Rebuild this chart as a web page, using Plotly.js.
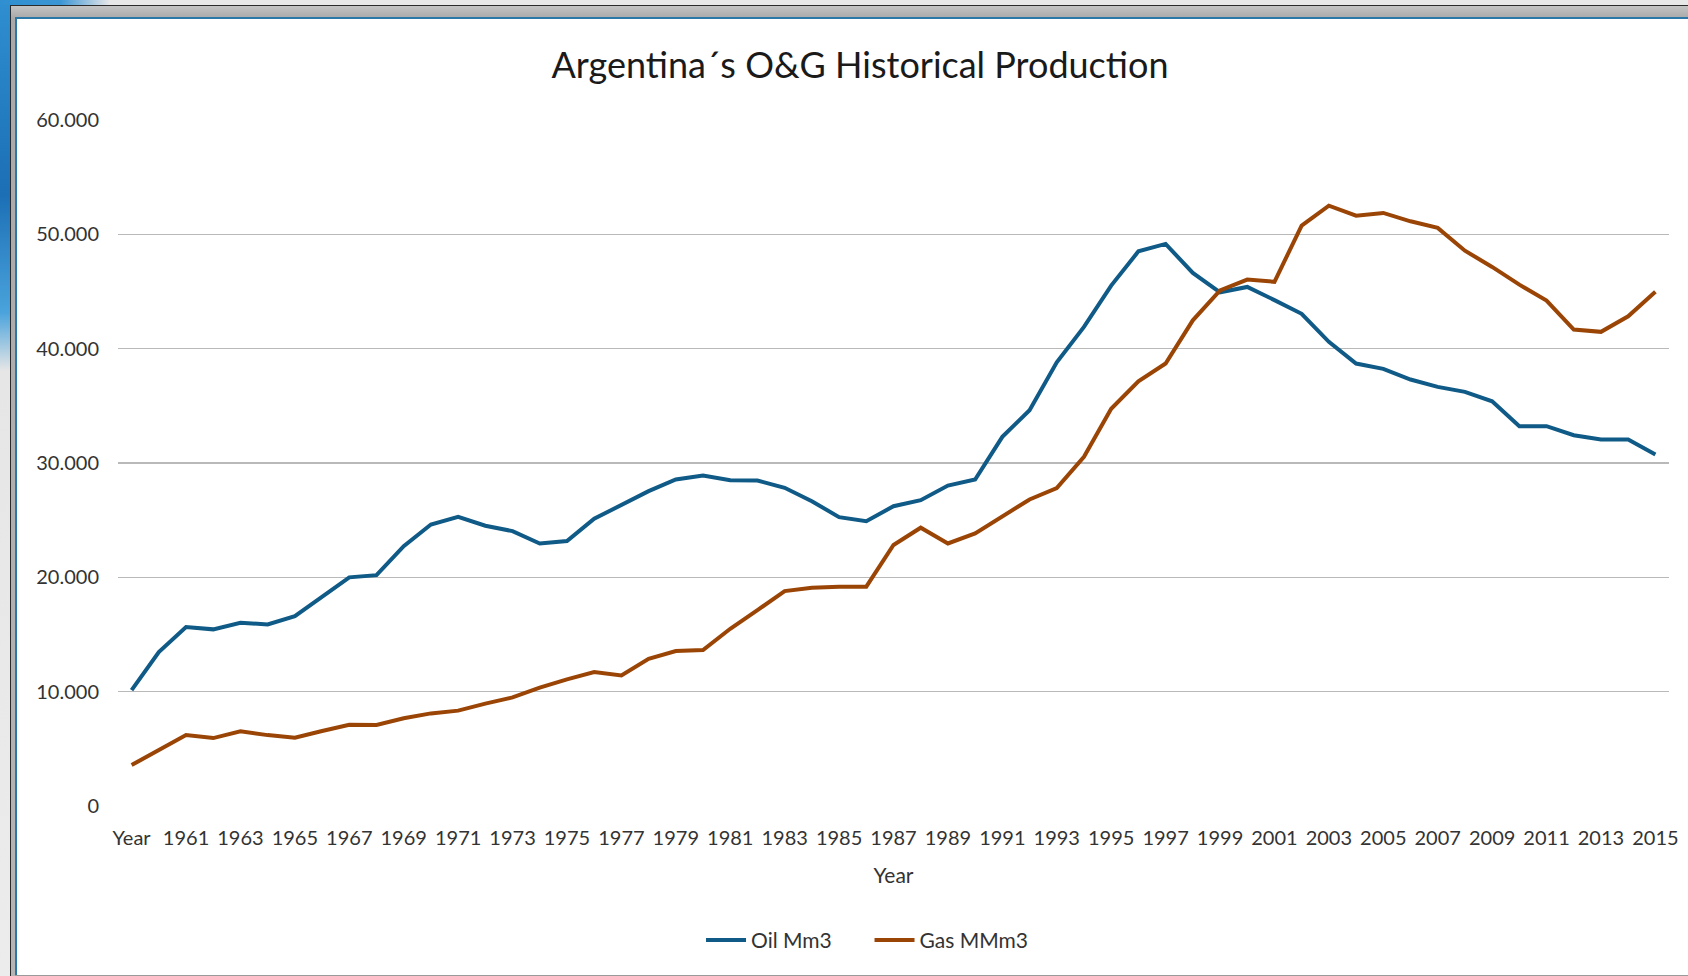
<!DOCTYPE html>
<html>
<head>
<meta charset="utf-8">
<script src="https://cdn.plot.ly/plotly-3.0.1.min.js"></script>
<style>
  html, body { margin:0; padding:0; width:1688px; height:976px; overflow:hidden; background:#ececec; }
  #desk { position:absolute; left:0; top:0; width:10px; height:976px;
          background: linear-gradient(180deg, #2f8fd0 0%, #1c6fb5 20%, #4aa3dc 32%, #e6e6e6 38%, #ececec 100%); }
  #desktop-top { position:absolute; left:0; top:0; width:1688px; height:5px;
          background: linear-gradient(90deg, #2f8fd0 0px, #3b95d4 60px, #e8e8e8 110px, #e8e8e8 100%); }
  #frame { position:absolute; left:10px; top:5px; width:1678px; height:971px; box-sizing:border-box;
           border-left:1px solid #2b2b2b; border-top:1px solid #2b2b2b;
           background: linear-gradient(180deg, #c4c4c4 0px, #a9a9a9 12px, #b5b5b5 100%); }
  #inner { position:absolute; left:15px; top:17px; width:1673px; height:958px; box-sizing:border-box;
           border-left:2px solid #2a78a8; border-top:2px solid #2a78a8; background:#ffffff; }
  #chart { position:absolute; left:17px; top:19px; width:1671px; height:956px; }
  #bottomline { position:absolute; left:15px; top:975px; width:1673px; height:1px; background:#9a9a9a; }
</style>
</head>
<body>
<div id="desk"></div>
<div id="desktop-top"></div>
<div id="frame"></div>
<div id="inner"></div>
<div id="chart"></div>
<div id="bottomline"></div>
<script>
const categories = ["Year","1960","1961","1962","1963","1964","1965","1966","1967","1968","1969",
  "1970","1971","1972","1973","1974","1975","1976","1977","1978","1979",
  "1980","1981","1982","1983","1984","1985","1986","1987","1988","1989",
  "1990","1991","1992","1993","1994","1995","1996","1997","1998","1999",
  "2000","2001","2002","2003","2004","2005","2006","2007","2008","2009",
  "2010","2011","2012","2013","2014","2015"];

const oilMm3 = [10140,13460,15650,15450,16030,15880,16610,18300,20000,20190,
  22730,24620,25300,24510,24040,22960,23170,25120,26370,27540,
  28560,28910,28500,28470,27830,26660,25260,24910,26220,26750,
  28030,28560,32290,34620,38810,41900,45520,48510,49160,46620,
  44930,45400,44250,43050,40600,38700,38230,37300,36660,36220,
  35400,33220,33220,32430,32050,32050,30740];

const gasMMm3 = [3580,4900,6200,5940,6530,6200,5980,6560,7110,7080,
  7670,8100,8340,8950,9500,10350,11080,11710,11420,12880,
  13550,13640,15500,17130,18800,19090,19180,19180,22830,24340,
  22960,23840,25350,26810,27800,30540,34740,37150,38700,42480,
  45100,46040,45850,50760,52510,51630,51870,51140,50560,48570,
  47150,45600,44200,41670,41470,42830,44970];

const seriesNames = ["Oil Mm3", "Gas MMm3"];
const titleText = "Argentina´s O&G Historical Production";
const xTitle = "Year";

const FONT = "Lato, 'Open Sans', sans-serif";
const tickVals = categories.filter((c, i) => i % 2 === 0);

const traces = [
  { x: categories, y: oilMm3, name: seriesNames[0], type: "scatter", mode: "lines",
    line: { color: "#0f5a86", width: 4 } },
  { x: categories, y: gasMMm3, name: seriesNames[1], type: "scatter", mode: "lines",
    line: { color: "#9a4506", width: 4 } }
];

const layout = {
  width: 1671, height: 956,
  margin: { l: 101, r: 19, t: 101, b: 169, pad: 0 },
  paper_bgcolor: "#ffffff", plot_bgcolor: "#ffffff",
  separators: ",.",
  font: { family: FONT, size: 20, color: "#333333" },
  title: { text: titleText, font: { family: FONT, size: 36, color: "#1a1a1a" },
           xref: "container", x: 0.5045, xanchor: "center",
           yref: "container", y: 0.9515, yanchor: "middle" },
  xaxis: {
    type: "category", range: [-0.5, 56.5],
    tickmode: "array", tickvals: tickVals, ticktext: tickVals,
    tickangle: 0, ticks: "", showgrid: false, zeroline: false, showline: false,
    tickfont: { family: FONT, size: 20, color: "#333333" },
    ticklabelstandoff: 18,
    title: { text: xTitle, font: { family: FONT, size: 21, color: "#333333" }, standoff: 20 },
    automargin: false
  },
  yaxis: {
    range: [0, 60000], tick0: 0, dtick: 10000, tickformat: ",d",
    ticks: "", showgrid: true, gridcolor: "#b9b9b9", gridwidth: 1.5,
    zeroline: false, showline: false,
    tickfont: { family: FONT, size: 20, color: "#333333" },
    ticklabelstandoff: 18,
    automargin: false
  },
  showlegend: true,
  legend: { orientation: "h", x: 0.3759, xanchor: "left", y: -0.196, yanchor: "middle",
            font: { family: FONT, size: 21, color: "#333333" }, itemwidth: 40,
            entrywidth: 113.5, entrywidthmode: "pixels",
            traceorder: "normal", bgcolor: "rgba(0,0,0,0)" },
  hovermode: false
};

Plotly.newPlot("chart", traces, layout, { displayModeBar: false, staticPlot: true });
</script>
</body>
</html>
